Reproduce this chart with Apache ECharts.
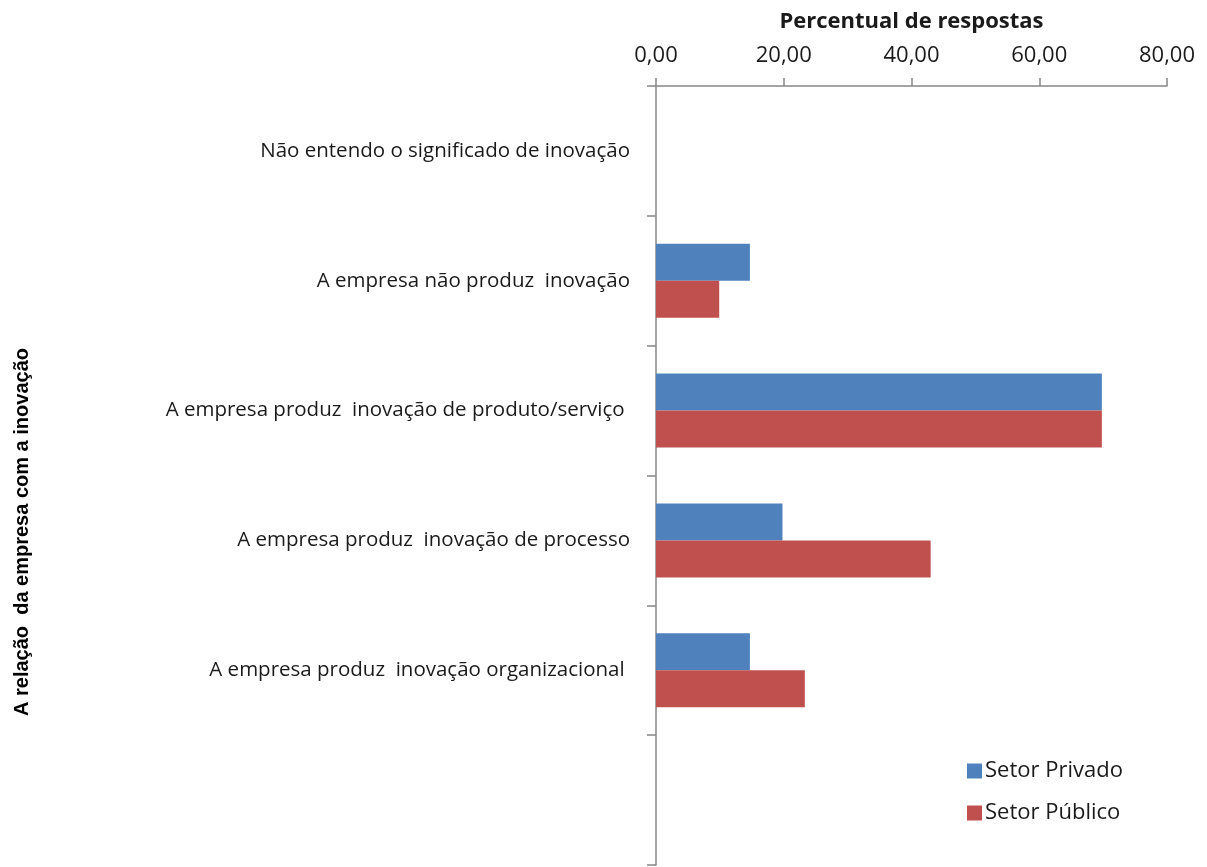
<!DOCTYPE html>
<html>
<head>
<meta charset="utf-8">
<script src="https://cdn.jsdelivr.net/npm/echarts@6/dist/echarts.min.js"></script>
<style>
  html, body { margin: 0; padding: 0; background: #fff; }
  #chart { width: 1207px; height: 867px; }
</style>
</head>
<body>
<div id="chart"></div>
<script>
// categories, top to bottom (last slot is empty in the original)
var categories = [
  'Não entendo o significado de inovação',
  'A empresa não produz  inovação',
  'A empresa produz  inovação de produto/serviço ',
  'A empresa produz  inovação de processo',
  'A empresa produz  inovação organizacional ',
  ''
];
var setorPrivado = [0, 14.7, 69.8, 19.8, 14.7, null];
var setorPublico = [0, 9.9, 69.8, 43.0, 23.3, null];
var xTicks = { min: 0, max: 80, interval: 20 };

var chartDom = document.getElementById('chart');
var myChart = echarts.init(chartDom);
var option;
var font = '"Open Sans", Lato, sans-serif';

option = {
  animation: false,
  color: ['#4F81BD', '#C0504D'],
  textStyle: { fontFamily: font },
  grid: {
    left: 656,
    right: 40,
    top: 86,
    bottom: 2
  },
  legend: {
    orient: 'vertical',
    left: 962,
    top: 755,
    itemWidth: 15,
    itemHeight: 15,
    itemGap: 20,
    icon: 'rect',
    textStyle: { fontSize: 22, color: '#1a1a1a', fontFamily: font, padding: [0, 0, 0, -2] },
    data: ['Setor Privado', 'Setor Público']
  },
  graphic: [
    {
      type: 'text',
      x: 22,
      y: 532,
      rotation: Math.PI / 2,
      style: {
        text: 'A relação  da empresa com a inovação',
        fontSize: 20,
        fontWeight: 'bold',
        fontFamily: '"Liberation Sans Narrow", "Liberation Sans", Arial, sans-serif',
        fill: '#000',
        textAlign: 'center',
        textVerticalAlign: 'middle'
      }
    }
  ],
  xAxis: {
    type: 'value',
    position: 'top',
    min: xTicks.min,
    max: xTicks.max,
    interval: xTicks.interval,
    name: 'Percentual de respostas',
    nameLocation: 'middle',
    nameGap: 53,
    nameTextStyle: { fontSize: 22, fontWeight: 'bold', color: '#1a1a1a' },
    axisLine: { show: true, lineStyle: { color: '#868686', width: 1.5 } },
    axisTick: { show: true, length: 8, lineStyle: { color: '#868686', width: 1.5 } },
    splitLine: { show: false },
    axisLabel: {
      fontSize: 22,
      color: '#1a1a1a',
      margin: 19,
      formatter: function (v) { return v.toFixed(2).replace('.', ','); }
    }
  },
  yAxis: {
    type: 'category',
    inverse: true,
    data: categories,
    axisLine: { show: true, lineStyle: { color: '#868686', width: 1.5 } },
    axisTick: { show: true, length: 9, interval: 0, lineStyle: { color: '#868686', width: 1.5 } },
    axisLabel: { fontSize: 20.5, color: '#1a1a1a', margin: 26, interval: 0 }
  },
  series: [
    {
      name: 'Setor Privado',
      type: 'bar',
      data: setorPrivado,
      barWidth: 37,
      barGap: '0%'
    },
    {
      name: 'Setor Público',
      type: 'bar',
      data: setorPublico,
      barWidth: 37,
      barGap: '0%'
    }
  ]
};

option && myChart.setOption(option);
</script>
</body>
</html>
